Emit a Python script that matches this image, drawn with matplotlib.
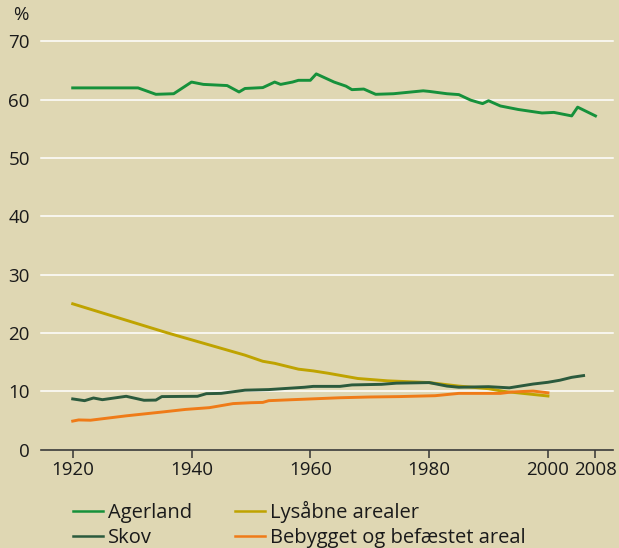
"""Land use in Denmark 1920-2008, share of area in percent."""

import matplotlib

matplotlib.use("Agg")
import matplotlib.pyplot as plt

# Agerland (farmland)
agerland_years = [1920, 1931, 1934, 1937, 1940, 1942, 1946, 1948, 1949, 1952, 1954, 1955,
                  1957, 1958, 1960, 1961, 1964, 1966, 1967, 1969, 1971, 1974, 1979, 1980,
                  1983, 1985, 1987, 1989, 1990, 1992, 1995, 1999, 2001, 2004, 2005, 2008]
agerland = [62.0, 62.0, 60.9, 61.0, 63.0, 62.6, 62.4, 61.3, 61.9, 62.05, 63.0, 62.6,
            63.0, 63.3, 63.3, 64.4, 63.0, 62.3, 61.7, 61.8, 60.9, 61.0, 61.5, 61.4,
            61.0, 60.85, 59.9, 59.3, 59.8, 58.9, 58.3, 57.7, 57.8, 57.2, 58.7, 57.2]

# Skov (forest)
skov_years = [1920, 1922, 1923.5, 1925, 1929, 1932, 1934, 1935, 1941, 1942.5, 1945, 1949,
              1953, 1959, 1960.5, 1965, 1967, 1972, 1974.5, 1980, 1983, 1985, 1990, 1993.5,
              1997.5, 2000, 2002, 2004, 2006]
skov = [8.7, 8.4, 8.86, 8.57, 9.15, 8.47, 8.5, 9.1, 9.15, 9.6, 9.65, 10.2,
        10.3, 10.7, 10.85, 10.85, 11.1, 11.2, 11.4, 11.5, 10.9, 10.7, 10.8, 10.6,
        11.25, 11.55, 11.9, 12.4, 12.7]

# Lysaabne arealer (open land)
lysaabne_years = [1920, 1936, 1949, 1952, 1954, 1958, 1960.5, 1963, 1968, 1973, 1980, 1985,
                  1990, 1992.5, 2000]
lysaabne = [25.0, 20.0, 16.2, 15.15, 14.8, 13.8, 13.5, 13.1, 12.2, 11.8, 11.5, 10.9,
            10.45, 10.0, 9.2]

# Bebygget og befaestet areal (built-up and paved)
bebygget_years = [1920, 1921, 1923, 1925, 1929, 1935, 1939, 1943, 1947, 1950, 1952, 1953,
                  1957, 1965, 1970, 1975, 1981, 1985, 1992, 1994, 1997.5, 2000]
bebygget = [4.9, 5.1, 5.05, 5.3, 5.8, 6.45, 6.9, 7.2, 7.9, 8.05, 8.1, 8.4,
            8.57, 8.9, 9.03, 9.1, 9.25, 9.65, 9.65, 9.9, 10.05, 9.75]

y_ticks = [0, 10, 20, 30, 40, 50, 60, 70]
x_ticks = [1920, 1940, 1960, 1980, 2000, 2008]

BG = "#dfd7b3"
COLORS = {
    "Agerland": "#16913b",
    "Skov": "#2b5a3d",
    "Lysåbne arealer": "#bfa300",
    "Bebygget og befæstet areal": "#ef7b18",
}
FS = 14.5
TICK_FS = 13.5

plt.rcParams["font.family"] = ["Open Sans", "DejaVu Sans"]

fig = plt.figure(figsize=(6.19, 5.48), dpi=100, facecolor=BG)
ax = fig.add_axes([0.0662, 0.1794, 0.9236, 0.7454], facecolor=BG)

for y in y_ticks[1:]:
    ax.axhline(y, color="white", lw=1.1, zorder=1, clip_on=False)

lw = 2.1
ax.plot(agerland_years, agerland, color=COLORS["Agerland"], lw=lw, label="Agerland", zorder=3)
ax.plot(skov_years, skov, color=COLORS["Skov"], lw=lw, label="Skov", zorder=3)
ax.plot(lysaabne_years, lysaabne, color=COLORS["Lysåbne arealer"], lw=lw,
        label="Lysåbne arealer", zorder=2)
ax.plot(bebygget_years, bebygget, color=COLORS["Bebygget og befæstet areal"], lw=lw,
        label="Bebygget og befæstet areal", zorder=2)

ax.set_xlim(1914.66, 2010.9)
ax.set_ylim(0, 70)
ax.set_xticks(x_ticks)
ax.set_yticks(y_ticks)
ax.tick_params(axis="x", direction="out", length=5.5, width=1.1, color="#333333",
               labelsize=TICK_FS, pad=3, labelcolor="#1a1a1a")
ax.tick_params(axis="y", length=0, labelsize=TICK_FS, pad=8, labelcolor="#1a1a1a")
for side in ("top", "right", "left"):
    ax.spines[side].set_visible(False)
ax.spines["bottom"].set_color("#3a3a3a")
ax.spines["bottom"].set_linewidth(1.2)
ax.spines["bottom"].set_zorder(4)

fig.text(13 / 619, 1 - 15 / 548, "%", fontsize=TICK_FS, color="#1a1a1a", va="center", ha="left")

handles, labels = ax.get_legend_handles_labels()
leg = fig.legend(handles, labels, loc="upper left", bbox_to_anchor=(73 / 619, 1 - 501 / 548),
                 ncol=2, frameon=False, fontsize=FS, handlelength=1.5, handletextpad=0.25,
                 columnspacing=2.1, labelspacing=0.24, borderaxespad=0, borderpad=0)
for line in leg.get_lines():
    line.set_linewidth(1.8)
for text in leg.get_texts():
    text.set_color("#1a1a1a")

fig.savefig("out.png", dpi=100, facecolor=BG)
